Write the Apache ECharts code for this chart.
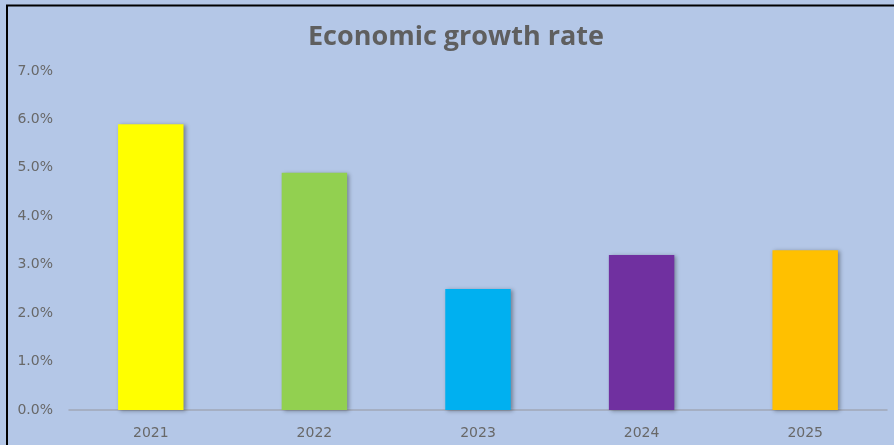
<!DOCTYPE html>
<html><head><meta charset="utf-8">
<script src="https://cdn.jsdelivr.net/npm/echarts@6/dist/echarts.min.js"></script>
<style>html,body{margin:0;padding:0;background:#b4c7e7;}#c{width:894px;height:445px;}</style>
</head><body><div id="c"></div>
<script>
const categories = ['2021','2022','2023','2024','2025'];
const values = [5.9, 4.9, 2.5, 3.2, 3.3];
const barColors = ['#FFFF00','#92D050','#00B0F0','#7030A0','#FFC000'];
const yTicks = [0,1,2,3,4,5,6,7];

const chart = echarts.init(document.getElementById('c'), null, {renderer:'canvas'});
chart.setOption({
  backgroundColor: '#b4c7e7',
  animation: false,
  title: {
    text: 'Economic growth rate', left: 303, top: 19,
    textStyle: {fontFamily: 'Open Sans', fontWeight: 'bold', fontSize: 27, color: '#5f5f5f'}
  },
  grid: {left: 69, right: 7, top: 71, bottom: 35, containLabel: false},
  xAxis: {
    type: 'category', data: categories,
    axisLine: {lineStyle: {color: '#a0a8b8', width: 1.5}},
    axisTick: {show: false},
    axisLabel: {color: '#686868', fontSize: 14, margin: 16, fontFamily: 'DejaVu Sans'}
  },
  yAxis: {
    type: 'value', min: yTicks[0], max: yTicks[yTicks.length-1], interval: 1,
    axisLine: {show: false}, axisTick: {show: false},
    splitLine: {show: false},
    axisLabel: {color: '#686868', fontSize: 14, margin: 16, fontFamily: 'DejaVu Sans',
      formatter: v => v.toFixed(1) + '%'}
  },
  series: [{
    type: 'bar', barWidth: '40%',
    data: values.map((v,i) => ({value: v, itemStyle: {color: barColors[i]}})),
    itemStyle: {shadowColor: 'rgba(0,0,0,0.35)', shadowBlur: 4, shadowOffsetX: 2, shadowOffsetY: 1}
  }],
  graphic: [
    {type: 'line', shape: {x1: 6, y1: 5.5, x2: 894, y2: 5.5}, style: {stroke: '#000', lineWidth: 2}},
    {type: 'line', shape: {x1: 7, y1: 5, x2: 7, y2: 445}, style: {stroke: '#000', lineWidth: 2}}
  ]
});
</script></body></html>
